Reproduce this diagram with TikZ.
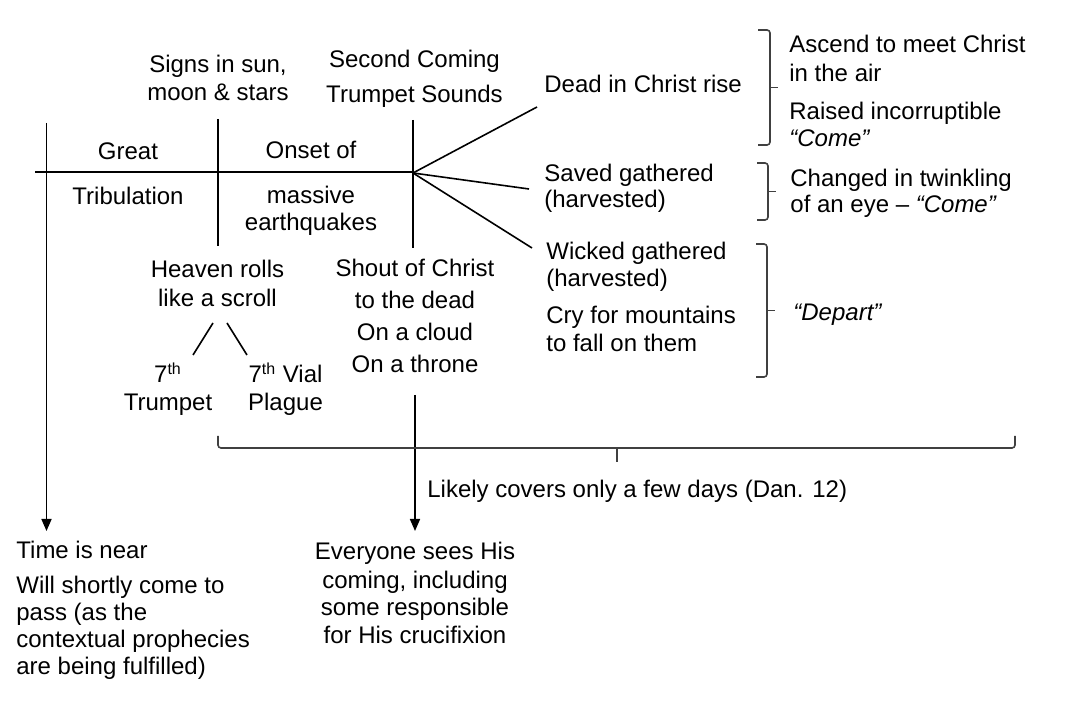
\documentclass[tikz,border=0pt]{standalone}
\usepackage{fontspec}
\setmainfont{Liberation Sans}
\usetikzlibrary{arrows.meta}
\begin{document}
\begin{tikzpicture}[x=0.5pt,y=-0.5pt,
  every node/.style={inner sep=0pt, font=\fontsize{12}{13.5}\selectfont},
  lbl/.style={anchor=base, align=center},
  lbll/.style={anchor=base west, align=left},
  ln/.style={line width=0.8pt, black},
  arr/.style={ln, -{Triangle[width=5pt,length=6pt]}},
  brk/.style={line width=0.8pt, black!75, rounded corners=1.5pt},
]
\useasboundingbox (0,0) rectangle (1071,715);

% ---- texts (anchor = baseline of the last line) ----
\node[lbl] (signs) at (218,101) {Signs in sun,\\[0.5pt]moon \& stars};
\node[lbl] (second) at (414.5,103) {Second Coming\\[4pt]Trumpet Sounds};
\node[lbl] (great) at (128,160) {Great};
\node[lbl] (trib) at (128,205) {Tribulation};
\node[lbl] (onset) at (311,159) {Onset of};
\node[lbl] (massive) at (311,231) {massive\\earthquakes};
\node[lbl] (heaven) at (217.5,307) {Heaven rolls\\[1pt]like a scroll};
\node[lbl] (shout) at (415,373) {Shout of Christ\\[2.5pt]to the dead\\[2.5pt]On a cloud\\[2.5pt]On a throne};
\node[lbl] (trumpet) at (168,411) {7\textsuperscript{th}\\[0.5pt]Trumpet};
\node[lbl] (vial) at (285.5,411) {7\textsuperscript{th} Vial\\[0.5pt]Plague};
\node[lbll] (dead) at (544,93) {Dead in Christ rise};
\node[lbll] (saved) at (544,208) {Saved gathered\\[-0.5pt](harvested)};
\node[lbll] (wicked) at (546,287) {Wicked gathered\\(harvested)};
\node[lbll] (cry) at (546,352) {Cry for mountains\\[0.5pt]to fall on them};
\node[lbll] (ascend) at (789,82) {Ascend to meet Christ\\[1pt]in the air};
\node[lbll] (raised) at (789,147) {Raised incorruptible\\\textit{“Come”}};
\node[lbll] (changed) at (790,213) {Changed in twinkling\\[-0.5pt]of an eye – \textit{“Come”}};
\node[lbll] (depart) at (793,321) {\textit{“Depart”}};
\node[lbll] (likely) at (427,498) {Likely covers only a few days (Dan. 12)};
\node[lbll] (time) at (16,559) {Time is near};
\node[lbll] (will) at (16,675) {Will shortly come to\\pass (as the\\contextual prophecies\\are being fulfilled)};
\node[lbl] (everyone) at (415,644) {Everyone sees His\\[0.5pt]coming, including\\[0.5pt]some responsible\\[0.5pt]for His crucifixion};

% ---- coordinates ----
\coordinate (hL) at (35,172);
\coordinate (hR) at (413,172);
\coordinate (v1t) at (46.5,123);
\coordinate (v1b) at (46.5,531);
\coordinate (v2t) at (218,119);
\coordinate (v2b) at (218,246);
\coordinate (v3t) at (413,120);
\coordinate (v3b) at (413,248);
\coordinate (fan) at (413,173);
\coordinate (f1) at (537,107);
\coordinate (f2) at (529,189);
\coordinate (f3) at (532,248);
\coordinate (s1a) at (213,323);
\coordinate (s1b) at (193,355);
\coordinate (s2a) at (227,323);
\coordinate (s2b) at (247,355);
\coordinate (v4t) at (415,395);
\coordinate (v4b) at (415,531);
% bottom brace
\coordinate (bl) at (218,436);
\coordinate (bm) at (617,448);
\coordinate (bt) at (617,462);
\coordinate (br) at (1015,436);
% right braces
\coordinate (r1t) at (758,30);
\coordinate (r1m) at (770,87.5);
\coordinate (r1tip) at (778,87.5);
\coordinate (r1b) at (758,145);
\coordinate (r2t) at (757,163);
\coordinate (r2m) at (768,191.5);
\coordinate (r2tip) at (776,191.5);
\coordinate (r2b) at (757,220);
\coordinate (r3t) at (756,244);
\coordinate (r3m) at (767,310.5);
\coordinate (r3tip) at (775,310.5);
\coordinate (r3b) at (756,377);

% ---- lines ----
\draw[ln] (hL) -- (hR);
\draw[arr] (v1t) -- (v1b);
\draw[ln] (v2t) -- (v2b);
\draw[ln] (v3t) -- (v3b);
\draw[ln] (fan) -- (f1);
\draw[ln] (fan) -- (f2);
\draw[ln] (fan) -- (f3);
\draw[ln] (s1a) -- (s1b);
\draw[ln] (s2a) -- (s2b);
\draw[arr] (v4t) -- (v4b);

\draw[brk] (bl) |- (bm) -| (br);
\draw[brk] (bm) -- (bt);

\draw[brk] (r1t) -| (r1m) |- (r1b);
\draw[brk] (r1m) -- (r1tip);
\draw[brk] (r2t) -| (r2m) |- (r2b);
\draw[brk] (r2m) -- (r2tip);
\draw[brk] (r3t) -| (r3m) |- (r3b);
\draw[brk] (r3m) -- (r3tip);
\end{tikzpicture}
\end{document}
